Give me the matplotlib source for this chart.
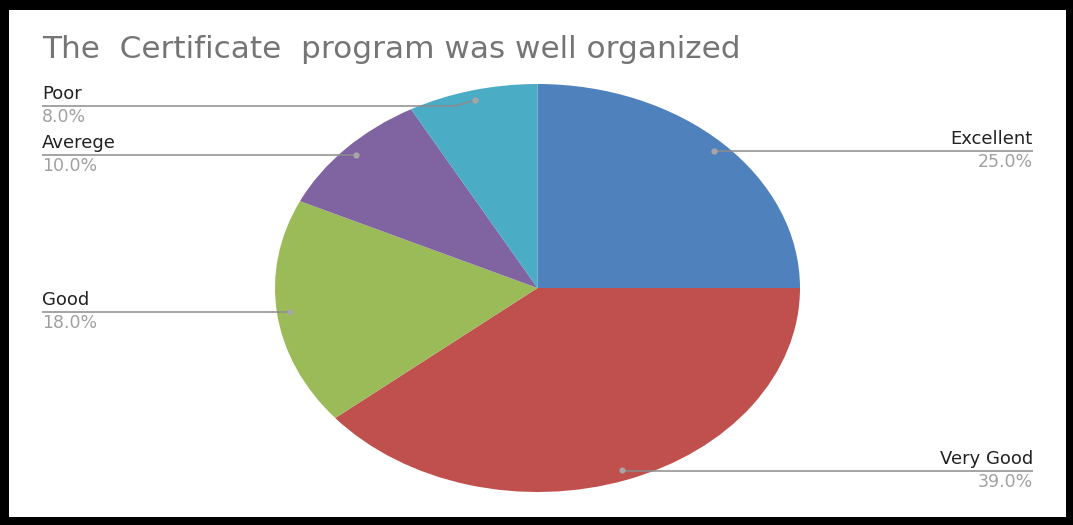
import numpy as np
import matplotlib
matplotlib.use("Agg")
import matplotlib.pyplot as plt
from matplotlib.patches import Rectangle

# data
labels = ["Excellent", "Very Good", "Good", "Averege", "Poor"]
values = [25.0, 39.0, 18.0, 10.0, 8.0]
colors = ["#4F81BD", "#C0504D", "#9BBB59", "#8064A2", "#4BACC6"]
title = "The  Certificate  program was well organized"

W, H = 1073, 525
# pie centre and radii in pixels (the pie is stretched into an ellipse)
CX, CY, RX, RY = 537.5, 288, 262.5, 204


def dx(px):
    return (px - CX) / RX


def dy(py):
    return (CY - py) / RY


fig = plt.figure(figsize=(W / 100, H / 100), dpi=100)
fig.patch.set_facecolor("black")
fig.patches.append(Rectangle((9 / W, 8 / H), 1057 / W, 507 / H,
                             transform=fig.transFigure, facecolor="white",
                             edgecolor="none", zorder=-1))

ax = fig.add_axes([0, 0, 1, 1])
ax.pie(values, colors=colors, startangle=90, counterclock=False, radius=1,
       wedgeprops=dict(edgecolor="none", linewidth=0))
ax.set_aspect("auto")
ax.set_xlim(dx(0), dx(W))
ax.set_ylim(dy(H), dy(0))
ax.axis("off")

ax.text(dx(42), dy(50), title, fontsize=22.4, color="#757575",
        ha="left", va="center")

# label layout: side, y of leader line (pixels)
sides = {"Excellent": "right", "Very Good": "right", "Good": "left",
         "Averege": "left", "Poor": "left"}
line_y = {"Excellent": 150.5, "Very Good": 470.5, "Good": 312,
          "Averege": 154.5, "Poor": 106}

cum = 0
for lab, v in zip(labels, values):
    mid = np.deg2rad(90 - 360 * (cum + v / 2) / sum(values))
    cum += v
    px_, py_ = 0.95 * np.cos(mid), 0.95 * np.sin(mid)
    ly = line_y[lab]
    if sides[lab] == "left":
        xe, ha = dx(42), "left"
    else:
        xe, ha = dx(1033), "right"
    ax.plot([xe, px_ - 0.08 * np.sign(px_ - xe) if lab == "Poor" else px_, px_],
            [dy(ly), dy(ly), py_], color="#8c8c8c", lw=1.1, solid_capstyle="butt")
    ax.plot(px_, py_, "o", ms=4.5, color="#a6a6a6", mec="none")
    ax.text(xe, dy(ly - 12), lab, fontsize=13, color="#222222",
            ha=ha, va="center")
    ax.text(xe, dy(ly + 11.5), f"{v:.1f}%", fontsize=12.5, color="#a0a0a0",
            ha=ha, va="center")

fig.savefig("out.png", dpi=100, facecolor=fig.get_facecolor())
